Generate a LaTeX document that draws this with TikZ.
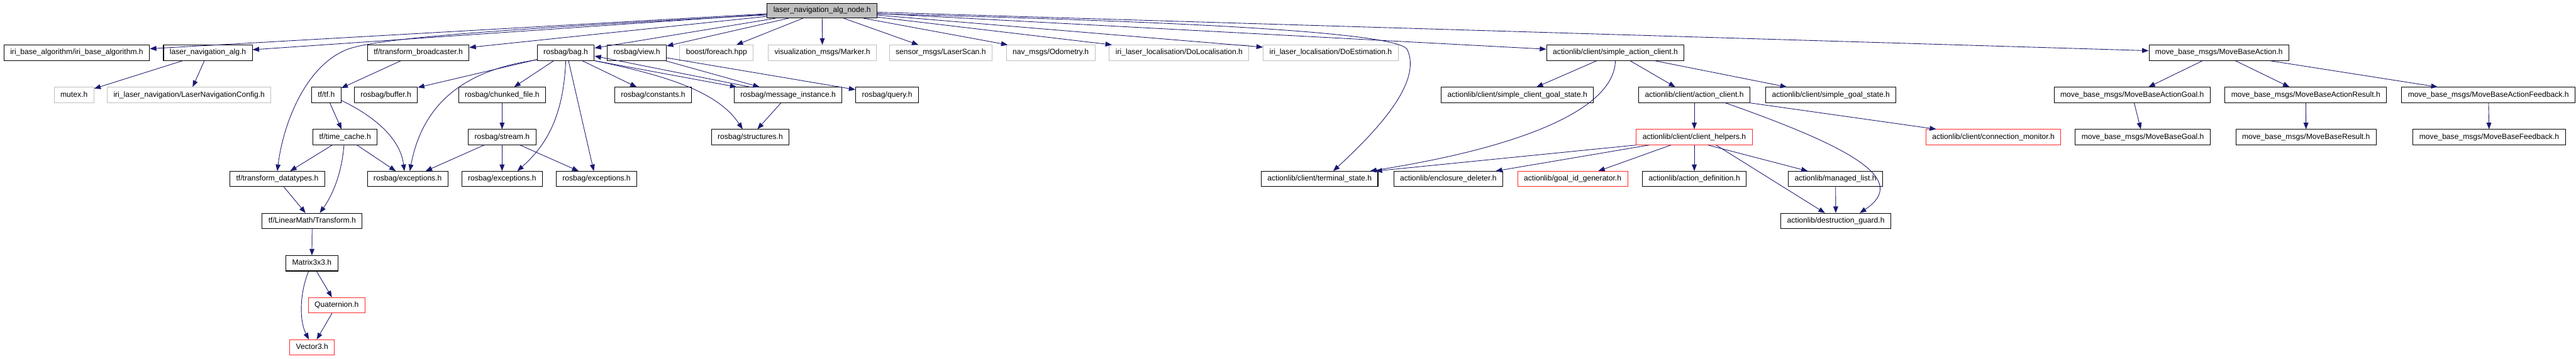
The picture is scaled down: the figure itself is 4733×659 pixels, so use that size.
\documentclass[tikz,border=0pt]{standalone}
\usepackage{fontspec}
\setmainfont{Liberation Sans}
\usepackage{tikz}
\usetikzlibrary{arrows.meta, positioning, calc}
\definecolor{edgeBlue}{RGB}{25, 25, 112}
\definecolor{boxGray}{RGB}{191, 191, 191}
\definecolor{missRed}{RGB}{255, 40, 40}

\begin{document}
\begin{tikzpicture}[x=1pt, y=-1pt,
    file/.style={draw=black, line width=1.2pt, fill=white, minimum height=28pt,
      inner xsep=11.5pt, inner ysep=0pt, text height=10pt, text depth=3pt,
      font=\fontsize{14}{16}\selectfont},
    extfile/.style={file, draw=boxGray},
    cutfile/.style={file, draw=missRed},
    topfile/.style={file, fill=boxGray, minimum height=27pt},
    dep/.style={draw=edgeBlue, line width=1pt, -{Triangle[length=12pt, width=9pt]}}]
      \path[use as bounding box, fill=white] (0,0) rectangle (4733,659);

      % Top node
      \node[topfile] (navNode) at (1510.5,19.5) {laser\_navigation\_alg\_node.h};

      % Row 1
      \node[file] (iriBase) at (141,97) {iri\_base\_algorithm/iri\_base\_algorithm.h};
      \node[file] (navAlg) at (382,97) {laser\_navigation\_alg.h};
      \node[file] (tfBroad) at (768.5,97) {tf/transform\_broadcaster.h};
      \node[file] (bagH) at (1039.5,97) {rosbag/bag.h};
      \node[file] (viewH) at (1170,97) {rosbag/view.h};
      \node[extfile] (foreachH) at (1316.5,97) {boost/foreach.hpp};
      \node[extfile] (markerH) at (1511,97) {visualization\_msgs/Marker.h};
      \node[extfile] (scanH) at (1728.5,97) {sensor\_msgs/LaserScan.h};
      \node[extfile] (odomH) at (1930.5,97) {nav\_msgs/Odometry.h};
      \node[extfile] (doLocH) at (2166.5,97) {iri\_laser\_localisation/DoLocalisation.h};
      \node[extfile] (doEstH) at (2445,97) {iri\_laser\_localisation/DoEstimation.h};
      \node[file] (simpleClient) at (2968,97) {actionlib/client/simple\_action\_client.h};
      \node[file] (mbAction) at (4077,97) {move\_base\_msgs/MoveBaseAction.h};

      % Row 2
      \node[extfile] (mutexH) at (136,174.5) {mutex.h};
      \node[extfile] (navConfig) at (347.5,174.5) {iri\_laser\_navigation/LaserNavigationConfig.h};
      \node[file] (tfH) at (599.5,174.5) {tf/tf.h};
      \node[file] (bufferH) at (709,174.5) {rosbag/buffer.h};
      \node[file] (chunkedH) at (922.5,174.5) {rosbag/chunked\_file.h};
      \node[file] (constH) at (1200,174.5) {rosbag/constants.h};
      \node[file] (msgInst) at (1448,174.5) {rosbag/message\_instance.h};
      \node[file] (queryH) at (1630,174.5) {rosbag/query.h};
      \node[file] (clientGoal) at (2788,174.5) {actionlib/client/simple\_client\_goal\_state.h};
      \node[file] (actClient) at (3113,174.5) {actionlib/client/action\_client.h};
      \node[file] (simpleGoal) at (3364,174.5) {actionlib/client/simple\_goal\_state.h};
      \node[file] (mbActGoal) at (3917.5,174.5) {move\_base\_msgs/MoveBaseActionGoal.h};
      \node[file] (mbActResult) at (4236.5,174.5) {move\_base\_msgs/MoveBaseActionResult.h};
      \node[file] (mbActFeed) at (4572,174.5) {move\_base\_msgs/MoveBaseActionFeedback.h};

      % Row 3
      \node[file] (timeCache) at (634,252) {tf/time\_cache.h};
      \node[file] (streamH) at (922.5,252) {rosbag/stream.h};
      \node[file] (structH) at (1378.5,252) {rosbag/structures.h};
      \node[cutfile] (helpersH) at (3113,252) {actionlib/client/client\_helpers.h};
      \node[cutfile] (connMon) at (3662.5,252) {actionlib/client/connection\_monitor.h};
      \node[file] (mbGoal) at (3937,252) {move\_base\_msgs/MoveBaseGoal.h};
      \node[file] (mbResult) at (4237,252) {move\_base\_msgs/MoveBaseResult.h};
      \node[file] (mbFeed) at (4573.5,252) {move\_base\_msgs/MoveBaseFeedback.h};

      % Row 4
      \node[file] (tfData) at (509.5,329) {tf/transform\_datatypes.h};
      \node[file] (excA) at (749,329) {rosbag/exceptions.h};
      \node[file] (excB) at (922.5,329) {rosbag/exceptions.h};
      \node[file] (excC) at (1096,329) {rosbag/exceptions.h};
      \node[file] (termState) at (2424.5,329) {actionlib/client/terminal\_state.h};
      \node[file] (enclDel) at (2661,329) {actionlib/enclosure\_deleter.h};
      \node[cutfile] (goalId) at (2889.5,329) {actionlib/goal\_id\_generator.h};
      \node[file] (actDef) at (3113,329) {actionlib/action\_definition.h};
      \node[file] (managedList) at (3372.5,329) {actionlib/managed\_list.h};

      % Rows 5 to 8
      \node[file] (transformH) at (573.5,406) {tf/LinearMath/Transform.h};
      \node[file] (destGuard) at (3373,406) {actionlib/destruction\_guard.h};
      \node[file] (matrixH) at (573,484) {Matrix3x3.h};
      \node[cutfile] (quatH) at (618.5,561) {Quaternion.h};
      \node[cutfile] (vecH) at (573.5,638.5) {Vector3.h};

      % Includes of the top node
      \foreach \dst in {iriBase,navAlg,tfBroad,bagH,viewH,foreachH,markerH,scanH,odomH,doLocH,doEstH,simpleClient,mbAction}
        \draw[dep] (navNode) -- (\dst);
      \draw[dep] ([yshift=-8pt]navNode.west) .. controls (900,55) and (700,70) .. (640,90)
        .. controls (560,120) and (520,230) .. (tfData.north);
      \draw[dep] ([yshift=-6pt]navNode.east) .. controls (2200,40) and (2560,60) .. (2585,90)
        .. controls (2615,150) and (2530,240) .. ([xshift=25pt]termState.north);

      % laser_navigation_alg.h
      \draw[dep] (navAlg) -- (mutexH);
      \draw[dep] (navAlg) -- (navConfig);

      % tf
      \draw[dep] (tfBroad) -- (tfH);
      \draw[dep] (tfH) -- (timeCache);
      \draw[dep] ([yshift=-10pt]tfH.east) .. controls (680,210) and (735,250) .. ([xshift=-6pt]excA.north);
      \draw[dep] (timeCache) -- (tfData);
      \draw[dep] (timeCache) -- (excA);
      \draw[dep] ([xshift=-2pt]timeCache.south) .. controls (628,320) and (610,360) .. ([xshift=14pt]transformH.north);
      \draw[dep] (tfData) -- (transformH);
      \draw[dep] (transformH) -- (matrixH);
      \draw[dep] (matrixH) -- (quatH);
      \draw[dep] ([xshift=-6pt]matrixH.south) .. controls (550,540) and (550,590) .. ([xshift=-6pt]vecH.north);
      \draw[dep] (quatH) -- (vecH);

      % rosbag
      \draw[dep] (bagH) -- (bufferH);
      \draw[dep] ([yshift=-13pt]bagH.west) .. controls (880,125) and (780,170) .. ([xshift=4pt]excA.north);
      \draw[dep] (bagH) -- (chunkedH);
      \draw[dep] (bagH.south) .. controls (1035,220) and (1000,270) .. ([xshift=28pt]excB.north);
      \draw[dep] ([xshift=5pt]bagH.south) -- ([xshift=-5pt]excC.north);
      \draw[dep] (bagH) -- (constH);
      \draw[dep] (bagH.south east) -- ([xshift=5pt]msgInst.north west);
      \draw[dep] ([xshift=30pt]msgInst.north west) -- ([yshift=-6pt]bagH.east);
      \draw[dep] (bagH.south east) .. controls (1230,140) and (1320,170) .. ([xshift=-14pt]structH.north);
      \draw[dep] (msgInst) -- (structH);
      \draw[dep] (viewH) -- (msgInst);
      \draw[dep] (viewH) -- (queryH);
      \draw[dep] (chunkedH) -- (streamH);
      \foreach \dst in {excA,excB,excC}
        \draw[dep] (streamH) -- (\dst);

      % actionlib
      \draw[dep] ([xshift=-34pt]simpleClient.south) -- ([xshift=35pt]clientGoal.north);
      \draw[dep] ([xshift=27pt]simpleClient.south) -- ([xshift=-35pt]actClient.north);
      \draw[dep] ([xshift=72pt]simpleClient.south) -- ([xshift=-81pt]simpleGoal.north);
      \draw[dep] (simpleClient.south) .. controls (2966,200) and (2800,270) .. ([xshift=-15pt]termState.north east);
      \draw[dep] (actClient) -- (helpersH);
      \draw[dep] ([xshift=102pt]actClient.south) -- ([xshift=-105pt]connMon.north);
      \draw[dep] ([xshift=57pt]actClient.south) .. controls (3400,270) and (3510,330) .. ([xshift=44pt]destGuard.north);
      \draw[dep] (helpersH.south west) -- ([xshift=-5pt]termState.north east);
      \draw[dep] ([xshift=-83pt]helpersH.south) -- ([xshift=87pt]enclDel.north);
      \draw[dep] ([xshift=-43pt]helpersH.south) -- ([xshift=47pt]goalId.north);
      \draw[dep] (helpersH) -- (actDef);
      \draw[dep] ([xshift=25pt]helpersH.south) -- ([xshift=-51pt]managedList.north);
      \draw[dep] ([xshift=40pt]helpersH.south) -- ([xshift=-20pt]destGuard.north);
      \draw[dep] (managedList) -- (destGuard);

      % move_base_msgs
      \draw[dep] (mbAction) -- (mbActGoal);
      \draw[dep] (mbAction) -- (mbActResult);
      \draw[dep] (mbAction) -- (mbActFeed);
      \draw[dep] (mbActGoal) -- (mbGoal);
      \draw[dep] (mbActResult) -- (mbResult);
      \draw[dep] (mbActFeed) -- (mbFeed);
    \end{tikzpicture}
\end{document}
